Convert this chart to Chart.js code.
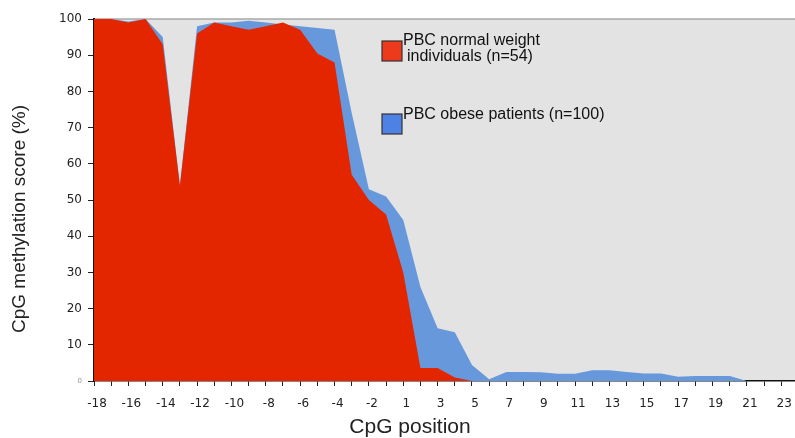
<!DOCTYPE html>
<html>
<head>
<meta charset="utf-8">
<script src="https://cdn.jsdelivr.net/npm/chart.js@4/dist/chart.umd.min.js"></script>
<style>
  html, body { margin: 0; padding: 0; background: #fff; }
  #wrap { width: 795px; height: 438px; position: relative; }
</style>
</head>
<body>
<div id="wrap"><canvas id="chart"></canvas></div>
<script>
// CpG positions (there is no position 0)
const positions = [-18, -17, -16, -15, -14, -13, -12, -11, -10, -9, -8, -7, -6, -5, -4, -3, -2, -1,
  1, 2, 3, 4, 5, 6, 7, 8, 9, 10, 11, 12, 13, 14, 15, 16, 17, 18, 19, 20, 21, 22, 23];

// PBC normal weight individuals (n=54)
const normalWeight = [100, 100, 99, 100, 93, 54, 96, 99, 98, 97, 98, 99, 97, 90.5, 88, 57, 50, 46,
  30, 3.6, 3.6, 1, 0, 0, 0, 0, 0, 0, 0, 0, 0, 0, 0, 0, 0, 0, 0, 0, 0, 0, 0];

// PBC obese patients (n=100)
const obese = [100, 100, 99.3, 100, 95, 54, 98, 99, 99, 99.5, 99, 98.5, 98, 97.5, 97, 74, 53, 51,
  44.5, 26, 14.6, 13.5, 4.4, 0.5, 2.5, 2.5, 2.4, 2, 2, 3, 3, 2.5, 2.1, 2.1, 1.2, 1.4, 1.4, 1.4, 0, 0, 0];

const yTicks = [0, 10, 20, 30, 40, 50, 60, 70, 80, 90, 100];

const legendItems = [
  { lines: ['PBC normal weight', 'individuals (n=54)'], color: '#ee3a1c' },
  { lines: ['PBC obese patients (n=100)'], color: '#4d82e4' }
];

const SANS = '"Liberation Sans", Arial, sans-serif';
const TICK_FONT = '"DejaVu Sans", Verdana, sans-serif';

// grey plot background with a thin top border
const plotBackground = {
  id: 'plotBackground',
  beforeDraw(chart) {
    const { ctx, chartArea: a } = chart;
    ctx.save();
    ctx.fillStyle = '#e3e3e3';
    ctx.fillRect(a.left, a.top, a.right - a.left, a.bottom - a.top);
    ctx.strokeStyle = '#a8a8a8';
    ctx.lineWidth = 1.5;
    ctx.beginPath();
    ctx.moveTo(a.left, a.top);
    ctx.lineTo(a.right, a.top);
    ctx.stroke();
    ctx.restore();
  }
};

// axis titles and the boxed legend inside the plot
const annotations = {
  id: 'annotations',
  afterDraw(chart) {
    const ctx = chart.ctx;
    ctx.save();
    ctx.fillStyle = '#222';
    ctx.textAlign = 'center';
    ctx.textBaseline = 'middle';

    ctx.font = '21px ' + SANS;
    ctx.fillText('CpG position', 410, 427);

    ctx.translate(20, 219);
    ctx.rotate(-Math.PI / 2);
    ctx.font = '19px ' + SANS;
    ctx.fillText('CpG methylation score (%)', 0, 0);
    ctx.restore();

    ctx.save();
    ctx.font = '16px ' + SANS;
    ctx.textAlign = 'left';
    ctx.textBaseline = 'alphabetic';
    const boxes = [{ x: 382, y: 41, tx: [403, 407], ty: [45, 61] },
                   { x: 382, y: 114, tx: [403], ty: [119] }];
    legendItems.forEach((item, i) => {
      const b = boxes[i];
      ctx.fillStyle = item.color;
      ctx.fillRect(b.x, b.y, 20, 20);
      ctx.strokeStyle = '#333';
      ctx.lineWidth = 1.2;
      ctx.strokeRect(b.x, b.y, 20, 20);
      ctx.fillStyle = '#111';
      item.lines.forEach((line, j) => ctx.fillText(line, b.tx[j], b.ty[j]));
    });
    ctx.restore();
  }
};

const toPoints = (arr) => arr.map((v, i) => ({ x: i, y: v }));

new Chart(document.getElementById('chart'), {
  type: 'line',
  data: {
    datasets: [
      {
        label: 'PBC normal weight individuals (n=54)',
        data: toPoints(normalWeight),
        backgroundColor: '#e42600',
        borderWidth: 0,
        pointRadius: 0,
        fill: 'origin',
        order: 0
      },
      {
        label: 'PBC obese patients (n=100)',
        data: toPoints(obese),
        backgroundColor: '#6698db',
        borderWidth: 0,
        pointRadius: 0,
        fill: 'origin',
        order: 1
      }
    ]
  },
  options: {
    responsive: true,
    maintainAspectRatio: false,
    animation: false,
    layout: { padding: { top: 19, right: 0, left: 0, bottom: 0 } },
    plugins: {
      legend: { display: false },
      tooltip: { enabled: false }
    },
    elements: { line: { tension: 0 } },
    scales: {
      x: {
        type: 'linear',
        min: 0,
        max: 40.8,
        afterFit: (s) => { s.height = 57; s.paddingLeft = 0; s.paddingRight = 0; },
        grid: { drawOnChartArea: false, drawTicks: true, tickLength: 5, color: '#222' },
        border: { display: true, color: '#111', width: 1.5 },
        ticks: {
          stepSize: 1,
          includeBounds: false,
          autoSkip: false,
          maxRotation: 0,
          padding: 11,
          labelOffset: 3,
          color: '#222',
          font: { family: TICK_FONT, size: 12 },
          callback: (v) => (Number.isInteger(v) && v % 2 === 0 && positions[v] !== undefined) ? String(positions[v]) : ''
        }
      },
      y: {
        min: 0,
        max: 100,
        afterFit: (s) => { s.width = 94; },
        afterBuildTicks: (s) => { s.ticks = yTicks.map(v => ({ value: v })); },
        grid: { drawOnChartArea: false, drawTicks: true, tickLength: 6, color: '#222' },
        border: { display: true, color: '#111', width: 2 },
        ticks: {
          padding: 6,
          color: (c) => (c.tick && c.tick.value === 0) ? '#999' : '#222',
          font: (c) => (c.tick && c.tick.value === 0)
            ? { family: TICK_FONT, size: 7 }
            : { family: TICK_FONT, size: 12 }
        }
      }
    }
  },
  plugins: [plotBackground, annotations]
});
</script>
</body>
</html>
